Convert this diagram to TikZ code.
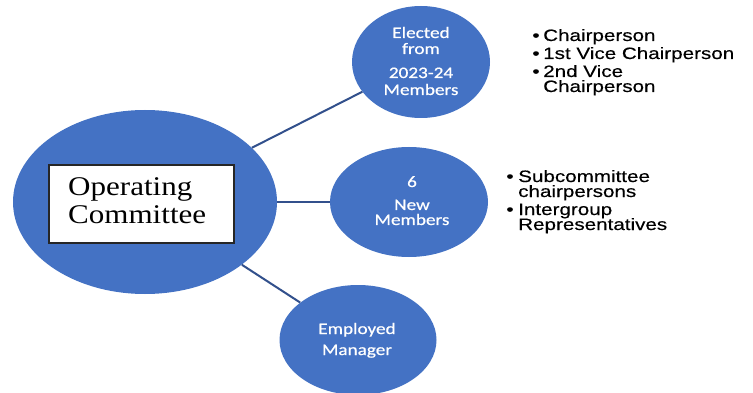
\documentclass[tikz,border=0pt]{standalone}
\usepackage{fontspec}
\setmainfont{Liberation Serif}
\newfontfamily\circfont{Carlito}[FakeStretch=1.2,FakeBold=0.6]
\newfontfamily\bulfont{Liberation Sans}[FakeStretch=1.25,FakeBold=0.3]
\newfontfamily\boxfont{Liberation Serif}[FakeStretch=1.15]
\usetikzlibrary{shapes.geometric}
\definecolor{bubble}{RGB}{68,114,196}
\definecolor{linkc}{RGB}{50,80,140}
\tikzset{
  bub/.style={ellipse, fill=bubble, draw=none, inner sep=0pt},
  link/.style={draw=linkc, line width=2pt},
  ctext/.style={anchor=base, text=white, inner sep=0pt, font=\circfont\fontsize{16}{16}\selectfont},
  btext/.style={anchor=base west, text=black, inner sep=0pt, font=\bulfont\fontsize{16.5}{16}\selectfont},
  bdot/.style={anchor=base, text=black, inner sep=0pt, font=\bulfont\fontsize{16.5}{16}\selectfont},
  otext/.style={anchor=base west, text=black, inner sep=0pt, font=\boxfont\fontsize{27}{27}\selectfont}
}
\begin{document}
\begin{tikzpicture}[x=1pt,y=-1pt]
\useasboundingbox (0,0) rectangle (753,393);
\clip (0,0) rectangle (753,393);
\fill[white] (0,0) rectangle (753,393);
% bubbles
\node[bub, minimum width=264pt, minimum height=184pt] (oc) at (145,202) {};
\node[bub, minimum width=138pt, minimum height=112pt] (el) at (421,62) {};
\node[bub, minimum width=158pt, minimum height=110pt] (nm) at (409,202) {};
\node[bub, minimum width=157pt, minimum height=110pt] (em) at (358,340) {};
% connectors
\draw[link] (oc) -- (el);
\draw[link] (oc) -- (nm);
\draw[link] (oc) -- (em);
% central box
\node[draw=black!85, fill=white, line width=1.3pt, minimum width=185pt, minimum height=78pt, inner sep=0pt] (box) at (141.5,204) {};
\node[otext] (op) at (68,196) {Operating};
\node[otext] (co) at (68,223) {Committee};
% bubble texts
\node[ctext] (el1) at (421,38) {Elected};
\node[ctext] (el2) at (421,54) {from};
\node[ctext] (el3) at (421,78) {2023-24};
\node[ctext] (el4) at (421,95) {Members};
\node[ctext] (nm1) at (412,187) {6};
\node[ctext] (nm2) at (412,210) {New};
\node[ctext] (nm3) at (412,225) {Members};
\node[ctext] (em1) at (357,334) {Employed};
\node[ctext] (em2) at (357,355) {Manager};
% bullet list 1
\node[bdot] (d1) at (536,41) {•};
\node[btext] (l1) at (543,41) {Chairperson};
\node[bdot] (d2) at (536,59) {•};
\node[btext] (l2) at (543,59) {1st Vice Chairperson};
\node[bdot] (d3) at (536,77) {•};
\node[btext] (l3) at (543,77) {2nd Vice};
\node[btext] (l4) at (543,92) {Chairperson};
% bullet list 2
\node[bdot] (d4) at (510,182) {•};
\node[btext] (m1) at (518,182) {Subcommittee};
\node[btext] (m2) at (518,197) {chairpersons};
\node[bdot] (d5) at (510,215) {•};
\node[btext] (m3) at (518,215) {Intergroup};
\node[btext] (m4) at (518,230) {Representatives};
\end{tikzpicture}
\end{document}
